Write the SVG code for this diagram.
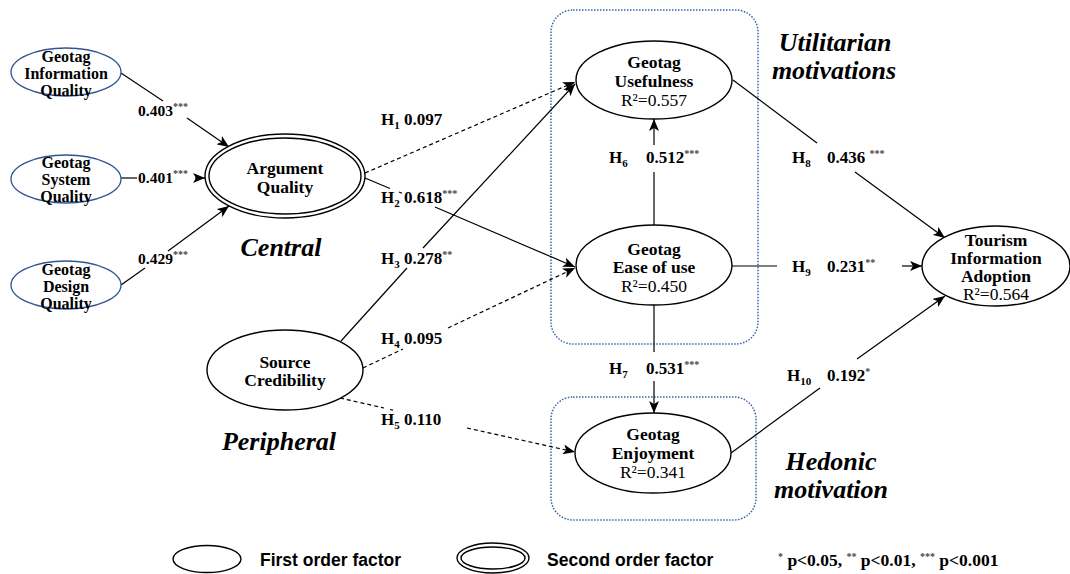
<svg xmlns="http://www.w3.org/2000/svg" width="1070" height="574" viewBox="0 0 1070 574">
  <defs>
    <marker id="arrow" viewBox="0 0 12 10" refX="12" refY="5" markerWidth="12" markerHeight="10" orient="auto" markerUnits="userSpaceOnUse">
      <path d="M0,0 L12,5 L0,10 L3,5 z" fill="#000"/>
    </marker>
    <style>
      .node { fill: #fff; stroke: #000; stroke-width: 1.4; }
      .sub { fill: #fff; stroke: #2f5597; stroke-width: 1.3; }
      .box { fill: none; stroke: #3b64a8; stroke-width: 1.5; stroke-dasharray: 1.5 1.5; }
      .ln { fill: none; stroke: #000; stroke-width: 1.2; }
      .dash { fill: none; stroke: #000; stroke-width: 1.2; stroke-dasharray: 4 3; }
      .nt { font-family: "Liberation Serif", "Times New Roman", serif; font-weight: bold; font-size: 17.5px; text-anchor: middle; fill: #000; }
      .st { font-family: "Liberation Serif", "Times New Roman", serif; font-weight: bold; font-size: 16px; text-anchor: middle; fill: #000; }
      .r2 { font-family: "Liberation Serif", "Times New Roman", serif; font-size: 17.5px; text-anchor: middle; fill: #000; }
      .lb { font-family: "Liberation Serif", "Times New Roman", serif; font-weight: bold; font-size: 17px; fill: #000; }
      .lbs { font-family: "Liberation Serif", "Times New Roman", serif; font-weight: bold; font-size: 15.5px; fill: #000; }
      .lgs { font-family: "Liberation Serif", "Times New Roman", serif; font-weight: bold; font-size: 17.5px; fill: #000; }
      .grp { font-family: "Liberation Serif", "Times New Roman", serif; font-weight: bold; font-style: italic; font-size: 26px; text-anchor: middle; fill: #000; }
      .leg { font-family: "Liberation Sans", Arial, sans-serif; font-weight: bold; font-size: 17.5px; fill: #000; }
      .sup { font-size: 10px; fill: #444; }
      .sb { font-size: 11px; }
    </style>
  </defs>

  <!-- construct groupings -->
  <g id="utilitarian-box">
    <rect class="box" x="551" y="10" width="207" height="334" rx="22"/>
    <text class="grp" x="835" y="51">Utilitarian</text>
    <text class="grp" x="834" y="79">motivations</text>
  </g>
  <g id="hedonic-box">
    <rect class="box" x="551" y="397" width="205" height="123" rx="22"/>
    <text class="grp" x="831" y="470">Hedonic</text>
    <text class="grp" x="831" y="498">motivation</text>
  </g>
  <g id="route-labels">
    <text class="grp" x="281" y="256">Central</text>
    <text class="grp" x="279" y="450">Peripheral</text>
  </g>

  <!-- paths between constructs -->
  <g id="connectors">
    <!-- first-order indicators to Argument Quality -->
    <line class="ln" x1="121" y1="73" x2="163" y2="101"/>
    <line class="ln" x1="187" y1="118" x2="229" y2="147" marker-end="url(#arrow)"/>
    <line class="ln" x1="121" y1="178" x2="137" y2="178"/>
    <line class="ln" x1="195" y1="178" x2="205" y2="178" marker-end="url(#arrow)"/>
    <line class="ln" x1="121" y1="285" x2="145" y2="268"/>
    <line class="ln" x1="168" y1="251" x2="229" y2="206" marker-end="url(#arrow)"/>

    <!-- H1 -->
    <line class="dash" x1="365" y1="173" x2="575" y2="82" marker-end="url(#arrow)"/>
    <!-- H2 -->
    <line class="ln" x1="365" y1="178" x2="390" y2="188.5"/>
    <line class="ln" x1="399" y1="192" x2="402" y2="193.3"/>
    <line class="ln" x1="435" y1="207" x2="575" y2="267" marker-end="url(#arrow)"/>
    <!-- H3 -->
    <line class="ln" x1="341" y1="341" x2="407" y2="268"/>
    <line class="ln" x1="423" y1="248" x2="575" y2="84" marker-end="url(#arrow)"/>
    <!-- H4 -->
    <line class="dash" x1="363" y1="368" x2="403" y2="349"/>
    <line class="dash" x1="448" y1="328" x2="575" y2="268" marker-end="url(#arrow)"/>
    <!-- H5 -->
    <line class="dash" x1="340" y1="398" x2="384" y2="408"/>
    <line class="ln" x1="390" y1="409.5" x2="393" y2="410.2"/>
    <line class="dash" x1="467" y1="428" x2="575" y2="452" marker-end="url(#arrow)"/>
    <!-- H6 -->
    <line class="ln" x1="654" y1="225" x2="654" y2="172"/>
    <line class="ln" x1="654" y1="145" x2="654" y2="119" marker-end="url(#arrow)"/>
    <!-- H7 -->
    <line class="ln" x1="654" y1="305" x2="654" y2="352"/>
    <line class="ln" x1="654" y1="381" x2="654" y2="413" marker-end="url(#arrow)"/>
    <!-- H8 -->
    <line class="ln" x1="733" y1="80" x2="817" y2="143"/>
    <line class="ln" x1="855" y1="172" x2="945" y2="238" marker-end="url(#arrow)"/>
    <!-- H9 -->
    <line class="ln" x1="732" y1="266" x2="777" y2="266"/>
    <line class="ln" x1="902" y1="266" x2="922" y2="266" marker-end="url(#arrow)"/>
    <!-- H10 -->
    <line class="ln" x1="731" y1="453" x2="820" y2="388"/>
    <line class="ln" x1="857" y1="359" x2="945" y2="296" marker-end="url(#arrow)"/>
  </g>

  <!-- path coefficients -->
  <g id="coefficients">
    <text class="lbs" x="138" y="116">0.403<tspan class="sup" dy="-6">***</tspan></text>
    <text class="lbs" x="138" y="183">0.401<tspan class="sup" dy="-6">***</tspan></text>
    <text class="lbs" x="138" y="264">0.429<tspan class="sup" dy="-6">***</tspan></text>

    <text class="lb" x="381" y="125">H<tspan class="sb" dy="4">1</tspan><tspan dy="-4"> 0.097</tspan></text>
    <text class="lb" x="381" y="203">H<tspan class="sb" dy="4">2</tspan><tspan dy="-4"> 0.618</tspan><tspan class="sup" dy="-6">***</tspan></text>
    <text class="lb" x="381" y="264">H<tspan class="sb" dy="4">3</tspan><tspan dy="-4"> 0.278</tspan><tspan class="sup" dy="-6">**</tspan></text>
    <text class="lb" x="381" y="344">H<tspan class="sb" dy="4">4</tspan><tspan dy="-4"> 0.095</tspan></text>
    <text class="lb" x="381" y="425">H<tspan class="sb" dy="4">5</tspan><tspan dy="-4"> 0.110</tspan></text>

    <text class="lb" x="609" y="163">H<tspan class="sb" dy="4">6</tspan></text>
    <text class="lb" x="646" y="163">0.512<tspan class="sup" dy="-6">***</tspan></text>
    <text class="lb" x="609" y="374">H<tspan class="sb" dy="4">7</tspan></text>
    <text class="lb" x="646" y="374">0.531<tspan class="sup" dy="-6">***</tspan></text>

    <text class="lb" x="792" y="163">H<tspan class="sb" dy="4">8</tspan></text>
    <text class="lb" x="827" y="163">0.436 <tspan class="sup" dy="-6">***</tspan></text>
    <text class="lb" x="792" y="272">H<tspan class="sb" dy="4">9</tspan></text>
    <text class="lb" x="827" y="272">0.231<tspan class="sup" dy="-6">**</tspan></text>
    <text class="lb" x="787" y="381">H<tspan class="sb" dy="4">10</tspan></text>
    <text class="lb" x="827" y="381">0.192<tspan class="sup" dy="-6">*</tspan></text>
  </g>

  <!-- first-order indicators of argument quality -->
  <g id="geotag-information-quality">
    <ellipse class="sub" cx="66" cy="72" rx="55" ry="24"/>
    <text class="st" x="66" y="62">Geotag</text>
    <text class="st" x="66" y="79">Information</text>
    <text class="st" x="66" y="96">Quality</text>
  </g>
  <g id="geotag-system-quality">
    <ellipse class="sub" cx="66" cy="179" rx="55" ry="24"/>
    <text class="st" x="66" y="168">Geotag</text>
    <text class="st" x="66" y="185">System</text>
    <text class="st" x="66" y="202">Quality</text>
  </g>
  <g id="geotag-design-quality">
    <ellipse class="sub" cx="66" cy="285" rx="55" ry="24"/>
    <text class="st" x="66" y="275">Geotag</text>
    <text class="st" x="66" y="292">Design</text>
    <text class="st" x="66" y="309">Quality</text>
  </g>

  <g id="argument-quality">
    <ellipse class="node" cx="285" cy="176" rx="80" ry="42"/>
    <ellipse class="node" cx="285" cy="176" rx="76" ry="38"/>
    <text class="nt" x="285" y="174">Argument</text>
    <text class="nt" x="285" y="193">Quality</text>
  </g>
  <g id="source-credibility">
    <ellipse class="node" cx="285" cy="370" rx="78" ry="40"/>
    <text class="nt" x="285" y="368">Source</text>
    <text class="nt" x="285" y="386">Credibility</text>
  </g>

  <g id="geotag-usefulness">
    <ellipse class="node" cx="654" cy="80" rx="78" ry="39"/>
    <text class="nt" x="654" y="68">Geotag</text>
    <text class="nt" x="654" y="87">Usefulness</text>
    <text class="r2" x="654" y="106">R²=0.557</text>
  </g>
  <g id="geotag-ease-of-use">
    <ellipse class="node" cx="654" cy="265" rx="78" ry="40"/>
    <text class="nt" x="654" y="255">Geotag</text>
    <text class="nt" x="654" y="273">Ease of use</text>
    <text class="r2" x="654" y="292">R²=0.450</text>
  </g>
  <g id="geotag-enjoyment">
    <ellipse class="node" cx="653" cy="453" rx="78" ry="40"/>
    <text class="nt" x="653" y="440">Geotag</text>
    <text class="nt" x="653" y="459">Enjoyment</text>
    <text class="r2" x="653" y="478">R²=0.341</text>
  </g>
  <g id="tourism-information-adoption">
    <ellipse class="node" cx="996" cy="266" rx="74" ry="40"/>
    <text class="nt" x="996" y="246">Tourism</text>
    <text class="nt" x="996" y="264">Information</text>
    <text class="nt" x="996" y="282">Adoption</text>
    <text class="r2" x="996" y="300">R²=0.564</text>
  </g>

  <!-- legend -->
  <g id="legend">
    <ellipse class="node" cx="207" cy="559" rx="34" ry="13.5"/>
    <text class="leg" x="260" y="566">First order factor</text>
    <ellipse class="node" cx="493" cy="558" rx="36" ry="15"/>
    <ellipse class="node" cx="493" cy="558" rx="32" ry="11"/>
    <text class="leg" x="547" y="566">Second order factor</text>
    <text class="lgs" x="778" y="566"><tspan class="sup" dy="-6">*</tspan><tspan dy="6"> p&lt;0.05, </tspan><tspan class="sup" dy="-6">**</tspan><tspan dy="6"> p&lt;0.01, </tspan><tspan class="sup" dy="-6">***</tspan><tspan dy="6"> p&lt;0.001</tspan></text>
  </g>
</svg>
